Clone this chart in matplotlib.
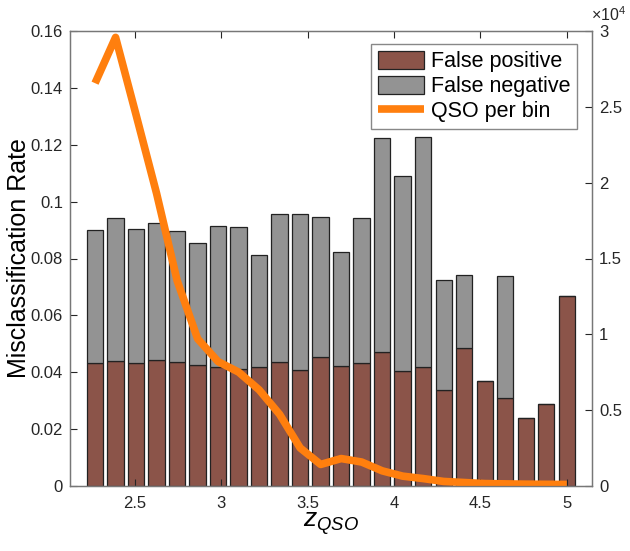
import matplotlib.pyplot as plt
import numpy as np
from matplotlib.ticker import FuncFormatter

plt.rcParams['font.family'] = ['Liberation Sans', 'DejaVu Sans']
plt.rcParams['mathtext.fontset'] = 'custom'
plt.rcParams['mathtext.rm'] = 'Liberation Sans'
plt.rcParams['mathtext.it'] = 'Liberation Sans:italic'

# Redshift bin centres
z_bins = np.linspace(2.27, 5.0, 24)

# Misclassification rates (stacked)
false_pos = [0.0432, 0.0440, 0.0432, 0.0442, 0.0437, 0.0424, 0.0420, 0.0411,
             0.0419, 0.0437, 0.0409, 0.0455, 0.0423, 0.0431, 0.0471, 0.0404,
             0.0419, 0.0336, 0.0487, 0.0369, 0.0310, 0.0239, 0.0290, 0.0669]
total_rate = [0.0901, 0.0944, 0.0905, 0.0926, 0.0898, 0.0856, 0.0913, 0.0912,
              0.0812, 0.0958, 0.0958, 0.0947, 0.0823, 0.0941, 0.1223, 0.1090,
              0.1228, 0.0726, 0.0743, 0.0369, 0.0737, 0.0239, 0.0290, 0.0669]
false_neg = [t - p for t, p in zip(total_rate, false_pos)]

# Number of QSOs per bin
qso_count = [26560, 29580, 24470, 19290, 13550, 9710, 8200, 7510, 6340, 4720,
             2510, 1420, 1810, 1580, 1000, 650, 490, 300, 230, 160, 140, 120,
             110, 100]

brown = '#8b5449'
grey = '#939393'
orange = '#ff7f0e'

fig = plt.figure(figsize=(6.3, 5.51), dpi=100)
ax = fig.add_axes([70 / 630, 1 - 486 / 551, 522 / 630, 455 / 551])

width = 0.8 * (z_bins[1] - z_bins[0])
ax.bar(z_bins, false_pos, width, color=brown, edgecolor='#222222', linewidth=0.9,
       label='False positive')
ax.bar(z_bins, false_neg, width, bottom=false_pos, color=grey, edgecolor='#222222',
       linewidth=0.9, label='False negative')

ax.set_xlim(2.125, 5.146)
ax.set_ylim(0, 0.16)
ax.set_xticks([2.5, 3, 3.5, 4, 4.5, 5])
ax.set_xticklabels(['2.5', '3', '3.5', '4', '4.5', '5'])
ax.set_yticks(np.arange(0, 0.161, 0.02))
ax.set_yticklabels(['0', '0.02', '0.04', '0.06', '0.08', '0.1', '0.12', '0.14', '0.16'])
ax.tick_params(direction='in', length=5, labelsize=12, colors='#262626',
               top=True, width=0.8)
ax.tick_params(axis='x', pad=7)
ax.tick_params(axis='y', pad=5)
ax.set_ylabel('Misclassification Rate', fontsize=18)
ax.yaxis.set_label_coords(-0.074, 0.5)
ax.set_xlabel('$\\mathit{z}_{\\mathit{QSO}}$', fontsize=19, labelpad=0)
for s in ax.spines.values():
    s.set_color('#777777')
    s.set_linewidth(0.9)

ax2 = ax.twinx()
ax2.plot(z_bins, qso_count, color=orange, linewidth=5.5, solid_capstyle='butt',
         label='QSO per bin')
ax2.set_ylim(0, 30000)
ax2.set_yticks(np.arange(0, 30001, 5000))
ax2.yaxis.set_major_formatter(FuncFormatter(lambda v, p: f'{v / 1e4:g}'))
ax2.tick_params(direction='in', length=5, labelsize=12, colors='#262626', width=0.8,
                pad=5)
ax2.set_ylabel('# QSO', fontsize=18)
ax2.yaxis.set_label_coords(1.075, 0.5)
for s in ax2.spines.values():
    s.set_color('#777777')
    s.set_linewidth(0.9)
ax2.text(0.999, 1.016, '$\\times10^4$', transform=ax2.transAxes, fontsize=11.5,
         color='#262626', ha='left', va='bottom')

h1, l1 = ax.get_legend_handles_labels()
h2, l2 = ax2.get_legend_handles_labels()
leg = ax2.legend(h1 + h2, l1 + l2, loc='upper right', bbox_to_anchor=(0.972, 0.971),
                 fontsize=15.5, fancybox=False, edgecolor='#888888', framealpha=1,
                 handlelength=2.15, handleheight=0.95, borderpad=0.3,
                 labelspacing=0.15, handletextpad=0.35, borderaxespad=0)

fig.savefig('out.png', dpi=100)
